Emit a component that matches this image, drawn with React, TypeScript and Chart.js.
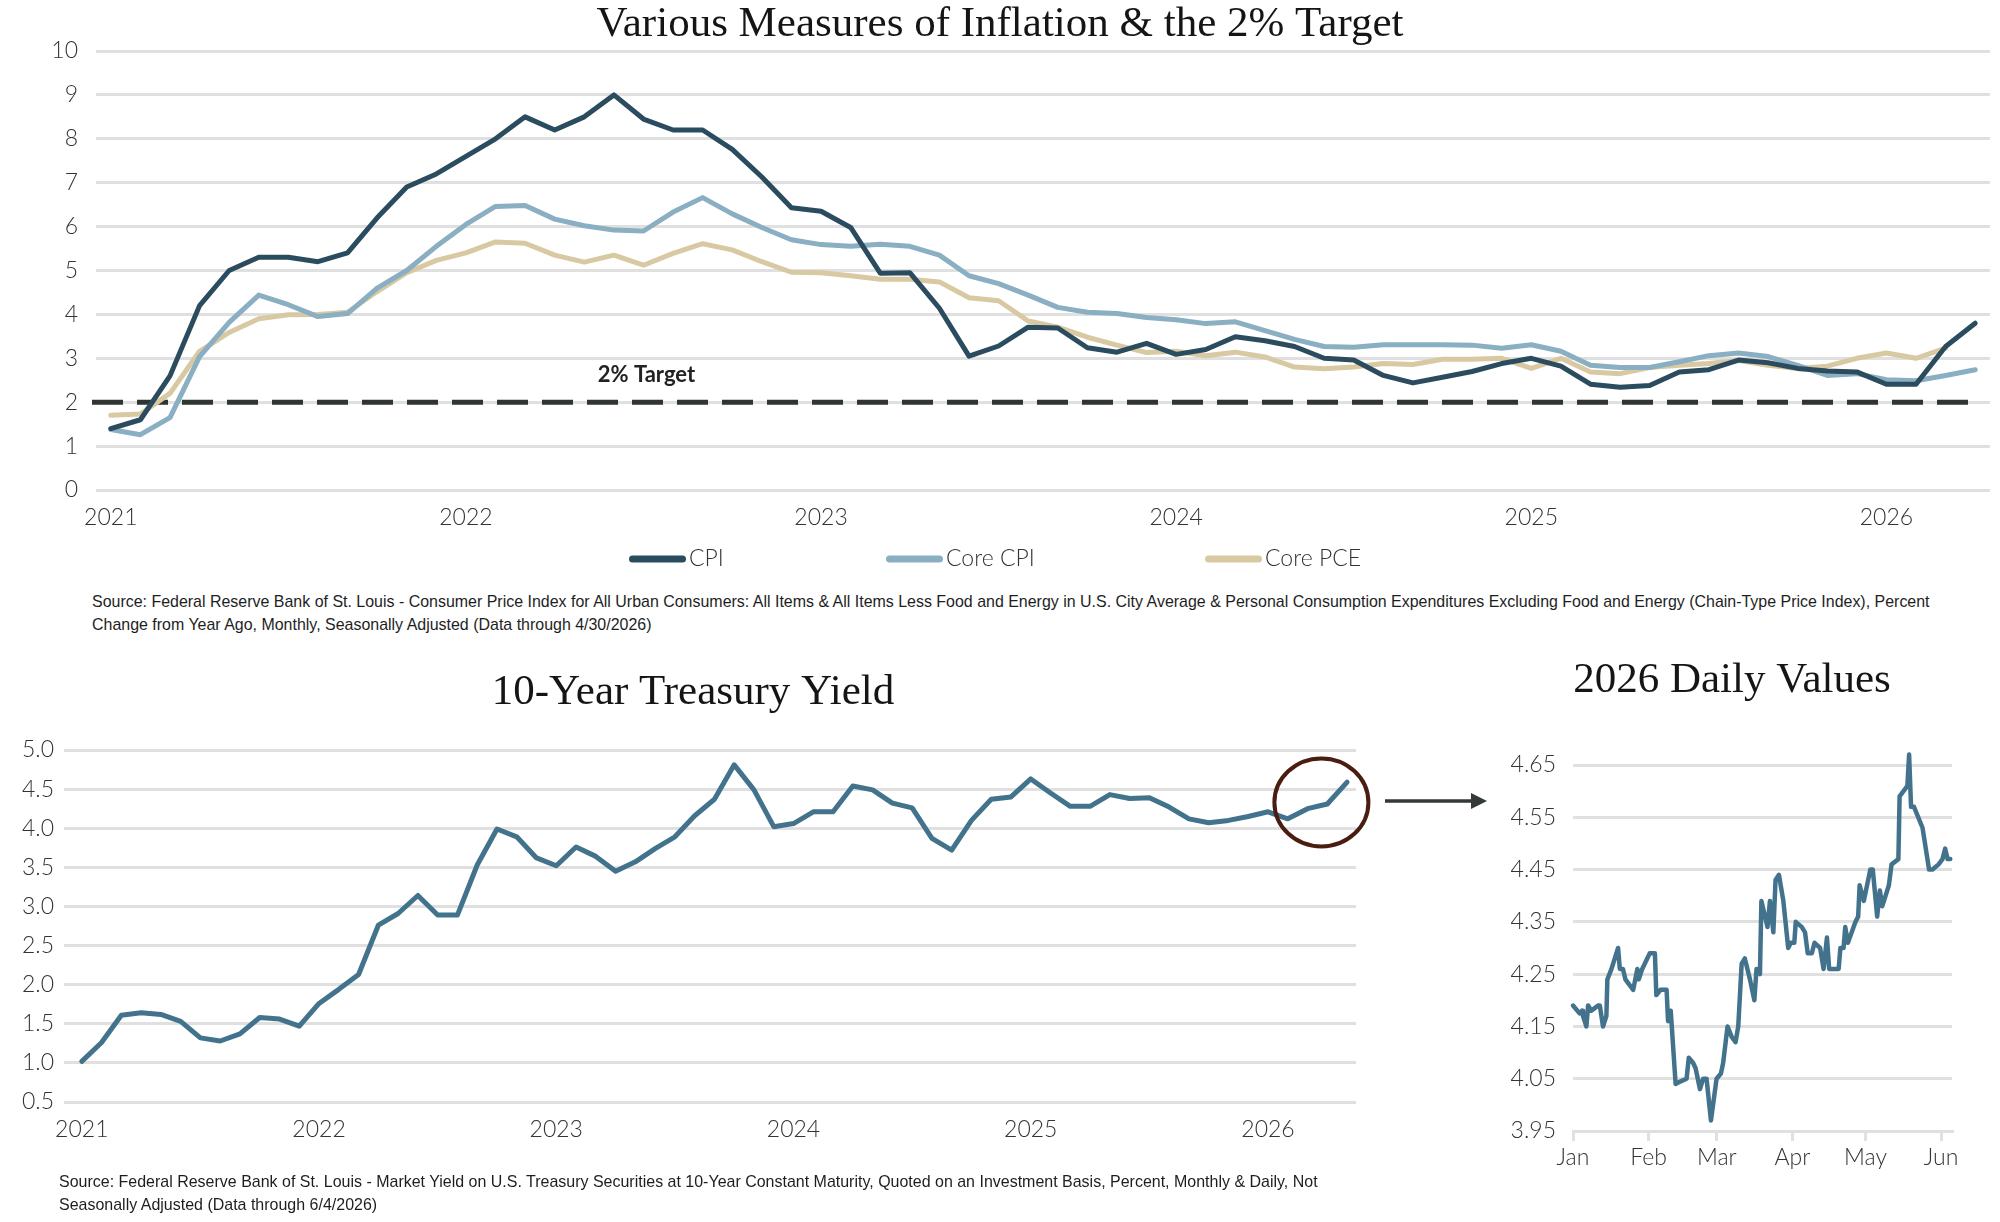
import React, { useEffect, useLayoutEffect, useRef } from 'react';
import { Chart, registerables } from 'chart.js';

Chart.register(...registerables);

// ---------------- DATA ----------------
const yearLabels = ['2021', '2022', '2023', '2024', '2025', '2026'];

// Monthly YoY %, Jan 2021 – Apr 2026
const cpi = [
  1.4, 1.6, 2.6, 4.2, 5.0, 5.3, 5.3, 5.2, 5.4, 6.2, 6.9, 7.2,
  7.6, 8.0, 8.5, 8.2, 8.5, 9.0, 8.45, 8.2, 8.2, 7.76, 7.13, 6.43,
  6.35, 5.98, 4.94, 4.95, 4.14, 3.05, 3.28, 3.71, 3.69, 3.24, 3.14, 3.34,
  3.09, 3.2, 3.49, 3.4, 3.27, 3.0, 2.96, 2.61, 2.44, 2.57, 2.7, 2.88,
  3.0, 2.82, 2.41, 2.34, 2.38, 2.69, 2.74, 2.96, 2.9, 2.77, 2.71, 2.69,
  2.41, 2.41, 3.27, 3.8,
];
const coreCpi = [
  1.38, 1.26, 1.65, 3.04, 3.82, 4.44, 4.22, 3.95, 4.02, 4.6, 5.0, 5.55,
  6.05, 6.46, 6.48, 6.17, 6.02, 5.92, 5.9, 6.33, 6.66, 6.29, 5.98, 5.7,
  5.59, 5.55, 5.6, 5.55, 5.35, 4.88, 4.7, 4.44, 4.16, 4.05, 4.02, 3.93,
  3.88, 3.79, 3.83, 3.63, 3.43, 3.27, 3.25, 3.31, 3.31, 3.31, 3.3, 3.23,
  3.31, 3.16, 2.84, 2.79, 2.79, 2.92, 3.06, 3.12, 3.04, 2.84, 2.61, 2.65,
  2.51, 2.49, 2.61, 2.74,
];
// Jan 2021 – Mar 2026
const corePce = [
  1.7, 1.73, 2.2, 3.16, 3.59, 3.9, 3.99, 4.0, 4.05, 4.52, 4.95, 5.23,
  5.4, 5.65, 5.62, 5.35, 5.19, 5.35, 5.12, 5.39, 5.61, 5.47, 5.2, 4.96,
  4.95, 4.88, 4.8, 4.8, 4.74, 4.38, 4.31, 3.85, 3.71, 3.48, 3.3, 3.13,
  3.16, 3.06, 3.14, 3.03, 2.8, 2.76, 2.8, 2.88, 2.86, 2.98, 2.98, 3.0,
  2.77, 3.0, 2.69, 2.65, 2.79, 2.84, 2.88, 2.95, 2.84, 2.77, 2.82, 3.0,
  3.12, 3.0, 3.23,
];
const inflationTarget = 2;
const targetLabel = '2% Target';
const targetLabelMonth = 18.1;
const targetLabelValue = 2.62;

// 10-Year Treasury, monthly, Jan 2021 – May 2026
const treasuryYield = [
  1.02, 1.26, 1.61, 1.64, 1.62, 1.53, 1.32, 1.28, 1.37, 1.58, 1.56, 1.47,
  1.76, 1.94, 2.13, 2.76, 2.91, 3.14, 2.89, 2.89, 3.53, 3.99, 3.89, 3.62,
  3.52, 3.76, 3.64, 3.45, 3.57, 3.74, 3.89, 4.16, 4.37, 4.81, 4.49, 4.02,
  4.06, 4.21, 4.21, 4.54, 4.49, 4.32, 4.26, 3.87, 3.72, 4.1, 4.37, 4.4,
  4.63, 4.45, 4.28, 4.28, 4.43, 4.38, 4.39, 4.27, 4.12, 4.07, 4.1, 4.15,
  4.21, 4.12, 4.25, 4.31, 4.59,
];
const circleMonth = 62.7;
const circleValue = 4.33;

// 2026 daily values: day of year (0 = Jan 1) and yield
const dailyDay = [
  0, 2.7, 3.7, 4.1, 5.5, 6.2, 7.5, 8.9, 10.3, 11.0,
  12.3, 13.7, 14.1, 15.8, 18.5, 19.2, 20.5, 21.5, 24.7, 26.4,
  27.0, 28.4, 31.5, 32.5, 33.6, 34.2, 35.9, 38.4, 39.0, 40.1,
  42.1, 44.2, 46.6, 47.5, 49.3, 50.3, 52.1, 53.4, 54.8, 56.6,
  58.9, 60.7, 61.6, 63.4, 65.1, 66.7, 67.8, 69.2, 70.5, 72.6,
  74.4, 75.3, 76.7, 77.3, 79.8, 80.8, 82.2, 83.1, 84.5, 86.3,
  88.3, 89.4, 90.8, 91.4, 93.9, 95.2, 96.3, 98.0, 99.1, 101.4,
  102.8, 104.2, 105.1, 109.0, 109.7, 111.0, 111.7, 112.8, 115.9, 117.0,
  117.6, 119.3, 122.0, 123.0, 124.8, 125.9, 126.9, 129.6, 130.7, 133.5,
  134.0, 137.2, 137.9, 138.7, 139.9, 143.4, 146.1, 147.5, 150.0, 151.6,
  152.7, 153.7, 154.8,
];
const dailyYield = [
  4.19, 4.175, 4.18, 4.17, 4.15, 4.19, 4.18, 4.185, 4.19, 4.19,
  4.15, 4.17, 4.24, 4.26, 4.30, 4.26, 4.26, 4.24, 4.22, 4.26,
  4.24, 4.26, 4.29, 4.29, 4.29, 4.21, 4.22, 4.22, 4.16, 4.18,
  4.04, 4.045, 4.05, 4.09, 4.08, 4.07, 4.03, 4.05, 4.05, 3.97,
  4.05, 4.06, 4.08, 4.15, 4.13, 4.12, 4.15, 4.27, 4.28, 4.24,
  4.20, 4.26, 4.25, 4.39, 4.34, 4.39, 4.33, 4.43, 4.44, 4.39,
  4.30, 4.31, 4.31, 4.35, 4.34, 4.33, 4.29, 4.29, 4.31, 4.30,
  4.26, 4.32, 4.26, 4.26, 4.30, 4.30, 4.34, 4.31, 4.35, 4.36,
  4.42, 4.39, 4.45, 4.45, 4.36, 4.41, 4.38, 4.42, 4.46, 4.47,
  4.59, 4.61, 4.67, 4.57, 4.57, 4.53, 4.45, 4.45, 4.46, 4.47,
  4.49, 4.47, 4.47,
];
const monthNames = ['Jan', 'Feb', 'Mar', 'Apr', 'May', 'Jun'];
const monthStartDays = [0, 31, 59, 90, 120, 151];

const topSource = [
  'Source: Federal Reserve Bank of St. Louis - Consumer Price Index for All Urban Consumers: All Items & All Items Less Food and Energy in U.S. City Average & Personal Consumption Expenditures Excluding Food and Energy (Chain-Type Price Index), Percent',
  'Change from Year Ago, Monthly, Seasonally Adjusted (Data through 4/30/2026)',
];
const bottomSource = [
  'Source: Federal Reserve Bank of St. Louis - Market Yield on U.S. Treasury Securities at 10-Year Constant Maturity, Quoted on an Investment Basis, Percent, Monthly & Daily, Not',
  'Seasonally Adjusted (Data through 6/4/2026)',
];

// ---------------- STYLE ----------------
const SERIF = '"Liberation Serif", "DejaVu Serif", serif';
const SANS = 'Lato, "Open Sans", "Noto Sans", sans-serif';
const TICK_FONT = { family: SANS, size: 23, weight: '300' as any };
const TICK_COLOR = '#333333';
const GRID = '#e0e0e0';
const CPI_COLOR = '#2b4c5e';
const CORE_CPI_COLOR = '#8aaec2';
const CORE_PCE_COLOR = '#d9c9a2';
const TSY_COLOR = '#43738c';

const toXY = (arr: number[]) => arr.map((v, i) => ({ x: i, y: v }));
const lineDs = (label: string, data: any[], color: string) => ({
  label,
  data,
  borderColor: color,
  backgroundColor: color,
  borderWidth: 5,
  pointRadius: 0,
  tension: 0,
  borderJoinStyle: 'round',
  borderCapStyle: 'round',
  fill: false,
});

const titleOpts = (text: string, top: number, bottom: number) => ({
  display: true,
  text,
  color: '#151515',
  font: { family: SERIF, size: 43, weight: 'normal' as any, lineHeight: 1.1 },
  padding: { top, bottom },
});

// invisible right-hand spacer axis (keeps the title centred like the reference)
const spacerAxis = (w: number) => ({
  position: 'right',
  display: true,
  grid: { display: false, drawTicks: false },
  border: { display: false },
  ticks: { display: false },
  afterFit: (s: any) => {
    s.width = w;
  },
});

function SourceNote({ lines, left, top, width }: any) {
  const ref = useRef<HTMLDivElement>(null);
  useLayoutEffect(() => {
    const el = ref.current;
    if (!el) return;
    const first = el.children[0] as HTMLElement;
    const w = first.offsetWidth;
    const s = w > 0 ? width / w : 1;
    Array.from(el.children).forEach((c) => {
      (c as HTMLElement).style.transform = `scaleX(${s})`;
    });
  }, [width]);
  return (
    <div
      ref={ref}
      style={{
        position: 'absolute',
        left,
        top,
        fontFamily: '"Liberation Sans Narrow", "Arial Narrow", "Liberation Sans", Arial, sans-serif',
        fontSize: 17,
        lineHeight: '23px',
        color: '#1e1e1e',
      }}
    >
      {lines.map((l: string, i: number) => (
        <div key={i} style={{ whiteSpace: 'nowrap', width: 'max-content', transformOrigin: 'left center' }}>
          {l}
        </div>
      ))}
    </div>
  );
}

export default function App() {
  const topRef = useRef<HTMLCanvasElement>(null);
  const tsyRef = useRef<HTMLCanvasElement>(null);
  const dailyRef = useRef<HTMLCanvasElement>(null);

  useEffect(() => {
    document.body.style.margin = '0';
    const charts: Chart[] = [];

    // ---------- Top inflation chart ----------
    const targetPlugin = {
      id: 'targetLine',
      beforeDatasetsDraw(chart: any) {
        const { ctx, chartArea, scales } = chart;
        const y = scales.y.getPixelForValue(inflationTarget);
        ctx.save();
        ctx.strokeStyle = '#2f3531';
        ctx.lineWidth = 5;
        ctx.setLineDash([31, 14]);
        ctx.beginPath();
        ctx.moveTo(chartArea.left - 4, y);
        ctx.lineTo(chartArea.right - 12, y);
        ctx.stroke();
        ctx.setLineDash([]);
        ctx.fillStyle = '#222';
        ctx.font = `bold 22px ${SANS}`;
        ctx.textAlign = 'center';
        ctx.textBaseline = 'middle';
        ctx.fillText(
          targetLabel,
          scales.x.getPixelForValue(targetLabelMonth),
          scales.y.getPixelForValue(targetLabelValue)
        );
        ctx.restore();
      },
    };
    const legendX = [629, 886, 1205];
    const legendPlugin = {
      id: 'spacedLegend',
      afterDraw(chart: any) {
        const { ctx } = chart;
        const y = 559;
        ctx.save();
        chart.data.datasets.forEach((ds: any, i: number) => {
          const x0 = legendX[i];
          ctx.strokeStyle = ds.borderColor;
          ctx.lineWidth = 7;
          ctx.lineCap = 'round';
          ctx.beginPath();
          ctx.moveTo(x0 + 3.5, y);
          ctx.lineTo(x0 + 53.5, y);
          ctx.stroke();
          ctx.fillStyle = '#333';
          ctx.font = `300 23px ${SANS}`;
          ctx.textAlign = 'left';
          ctx.textBaseline = 'middle';
          ctx.fillText(ds.label, x0 + 60, y);
        });
        ctx.restore();
      },
    };

    charts.push(
      new Chart(topRef.current!, {
        type: 'line',
        data: {
          datasets: [
            lineDs('CPI', toXY(cpi), CPI_COLOR),
            lineDs('Core CPI', toXY(coreCpi), CORE_CPI_COLOR),
            lineDs('Core PCE', toXY(corePce), CORE_PCE_COLOR),
          ] as any,
        },
        options: {
          responsive: false,
          animation: false,
          events: [],
          layout: { padding: { left: 0, right: 0, top: 0, bottom: 0 } },
          plugins: {
            legend: { display: false },
            tooltip: { enabled: false },
            title: titleOpts('Various Measures of Inflation & the 2% Target', 1.4, 2.3) as any,
          },
          scales: {
            x: {
              type: 'linear',
              min: -0.5,
              max: 63.5,
              grid: { display: false, drawTicks: false },
              border: { display: false },
              afterBuildTicks: (s: any) => {
                s.ticks = yearLabels.map((_, i) => ({ value: i * 12 }));
              },
              afterFit: (s: any) => {
                s.height = 90;
              },
              ticks: {
                autoSkip: false,
                maxRotation: 0,
                padding: 14,
                font: TICK_FONT,
                color: TICK_COLOR,
                callback: (v: any) => yearLabels[Math.round(Number(v) / 12)] ?? '',
              },
            },
            y: {
              min: 0,
              max: 10,
              ticks: { stepSize: 1, padding: 18, font: TICK_FONT, color: TICK_COLOR },
              grid: { color: GRID, lineWidth: 3, drawTicks: false },
              border: { display: false },
              afterFit: (s: any) => {
                s.width = 96;
              },
            },
            yR: spacerAxis(10),
          },
        } as any,
        plugins: [targetPlugin, legendPlugin],
      })
    );

    // ---------- 10-year treasury monthly ----------
    const circlePlugin = {
      id: 'circleNote',
      afterDatasetsDraw(chart: any) {
        const { ctx, scales } = chart;
        const cx = scales.x.getPixelForValue(circleMonth);
        const cy = scales.y.getPixelForValue(circleValue);
        ctx.save();
        ctx.strokeStyle = '#4a1d10';
        ctx.lineWidth = 4;
        ctx.beginPath();
        ctx.ellipse(cx, cy, 47, 44, 0, 0, Math.PI * 2);
        ctx.stroke();
        ctx.restore();
      },
    };
    charts.push(
      new Chart(tsyRef.current!, {
        type: 'line',
        data: { datasets: [lineDs('10-Year Treasury Yield', toXY(treasuryYield), TSY_COLOR)] as any },
        options: {
          responsive: false,
          animation: false,
          events: [],
          layout: { padding: { left: 0, right: 0, top: 0, bottom: 0 } },
          plugins: {
            legend: { display: false },
            tooltip: { enabled: false },
            title: titleOpts('10-Year Treasury Yield', 19.4, 33.3) as any,
          },
          scales: {
            x: {
              type: 'linear',
              min: -0.9,
              max: 64.45,
              grid: { display: false, drawTicks: false },
              border: { display: false },
              afterBuildTicks: (s: any) => {
                s.ticks = yearLabels.map((_, i) => ({ value: i * 12 }));
              },
              afterFit: (s: any) => {
                s.height = 58;
              },
              ticks: {
                autoSkip: false,
                maxRotation: 0,
                padding: 14,
                font: TICK_FONT,
                color: TICK_COLOR,
                callback: (v: any) => yearLabels[Math.round(Number(v) / 12)] ?? '',
              },
            },
            y: {
              min: 0.5,
              max: 5.0,
              ticks: {
                stepSize: 0.5,
                padding: 10,
                font: TICK_FONT,
                color: TICK_COLOR,
                callback: (v: any) => Number(v).toFixed(1),
              },
              grid: { color: GRID, lineWidth: 3, drawTicks: false },
              border: { display: false },
              afterFit: (s: any) => {
                s.width = 64;
              },
            },
            yR: spacerAxis(30),
          },
        } as any,
        plugins: [circlePlugin],
      })
    );

    // ---------- 2026 daily ----------
    const arrowPlugin = {
      id: 'arrow',
      afterDraw(chart: any) {
        const { ctx } = chart;
        const y = 161;
        ctx.save();
        ctx.strokeStyle = '#343a36';
        ctx.fillStyle = '#343a36';
        ctx.lineWidth = 3.5;
        ctx.beginPath();
        ctx.moveTo(5, y);
        ctx.lineTo(95, y);
        ctx.stroke();
        ctx.beginPath();
        ctx.moveTo(91, y - 8);
        ctx.lineTo(107, y);
        ctx.lineTo(91, y + 8);
        ctx.closePath();
        ctx.fill();
        ctx.restore();
      },
    };
    charts.push(
      new Chart(dailyRef.current!, {
        type: 'line',
        data: {
          datasets: [
            {
              ...lineDs(
                '2026 Daily',
                dailyDay.map((d, i) => ({ x: d, y: dailyYield[i] })),
                TSY_COLOR
              ),
              borderWidth: 4.5,
              clip: false,
            },
          ] as any,
        },
        options: {
          responsive: false,
          animation: false,
          events: [],
          layout: { padding: { left: 0, right: 0, top: 0, bottom: 0 } },
          plugins: {
            legend: { display: false },
            tooltip: { enabled: false },
            title: titleOpts('2026 Daily Values', 17.4, 60.3) as any,
          },
          scales: {
            x: {
              type: 'linear',
              min: 0,
              max: 155.5,
              grid: { display: true, drawOnChartArea: false, drawTicks: true, tickLength: 10, color: GRID, lineWidth: 3 },
              border: { display: true, color: GRID, width: 3 },
              afterBuildTicks: (s: any) => {
                s.ticks = monthStartDays.map((d) => ({ value: d }));
              },
              afterFit: (s: any) => {
                s.height = 69;
              },
              ticks: {
                autoSkip: false,
                maxRotation: 0,
                padding: 3,
                font: TICK_FONT,
                color: TICK_COLOR,
                callback: (v: any) => monthNames[monthStartDays.indexOf(Number(v))] ?? '',
              },
            },
            y: {
              min: 3.95,
              max: 4.65,
              ticks: {
                stepSize: 0.1,
                padding: 17,
                font: TICK_FONT,
                color: TICK_COLOR,
                callback: (v: any) => Number(v).toFixed(2),
              },
              grid: { color: GRID, lineWidth: 3, drawTicks: false },
              border: { display: false },
              afterFit: (s: any) => {
                s.width = 193;
              },
            },
            yR: spacerAxis(132),
          },
        } as any,
        plugins: [arrowPlugin],
      })
    );

    return () => charts.forEach((c) => c.destroy());
  }, []);

  return (
    <div
      style={{
        position: 'absolute',
        left: 0,
        top: 0,
        width: 2000,
        height: 1222,
        overflow: 'hidden',
        background: '#ffffff',
      }}
    >
      <canvas ref={topRef} width={2000} height={580} style={{ position: 'absolute', left: 0, top: 0 }} />
      <SourceNote lines={topSource} left={92} top={590} width={1838} />
      <canvas ref={tsyRef} width={1386} height={510} style={{ position: 'absolute', left: 0, top: 650 }} />
      <canvas ref={dailyRef} width={704} height={560} style={{ position: 'absolute', left: 1380, top: 640 }} />
      <SourceNote lines={bottomSource} left={59} top={1170} width={1259} />
    </div>
  );
}
